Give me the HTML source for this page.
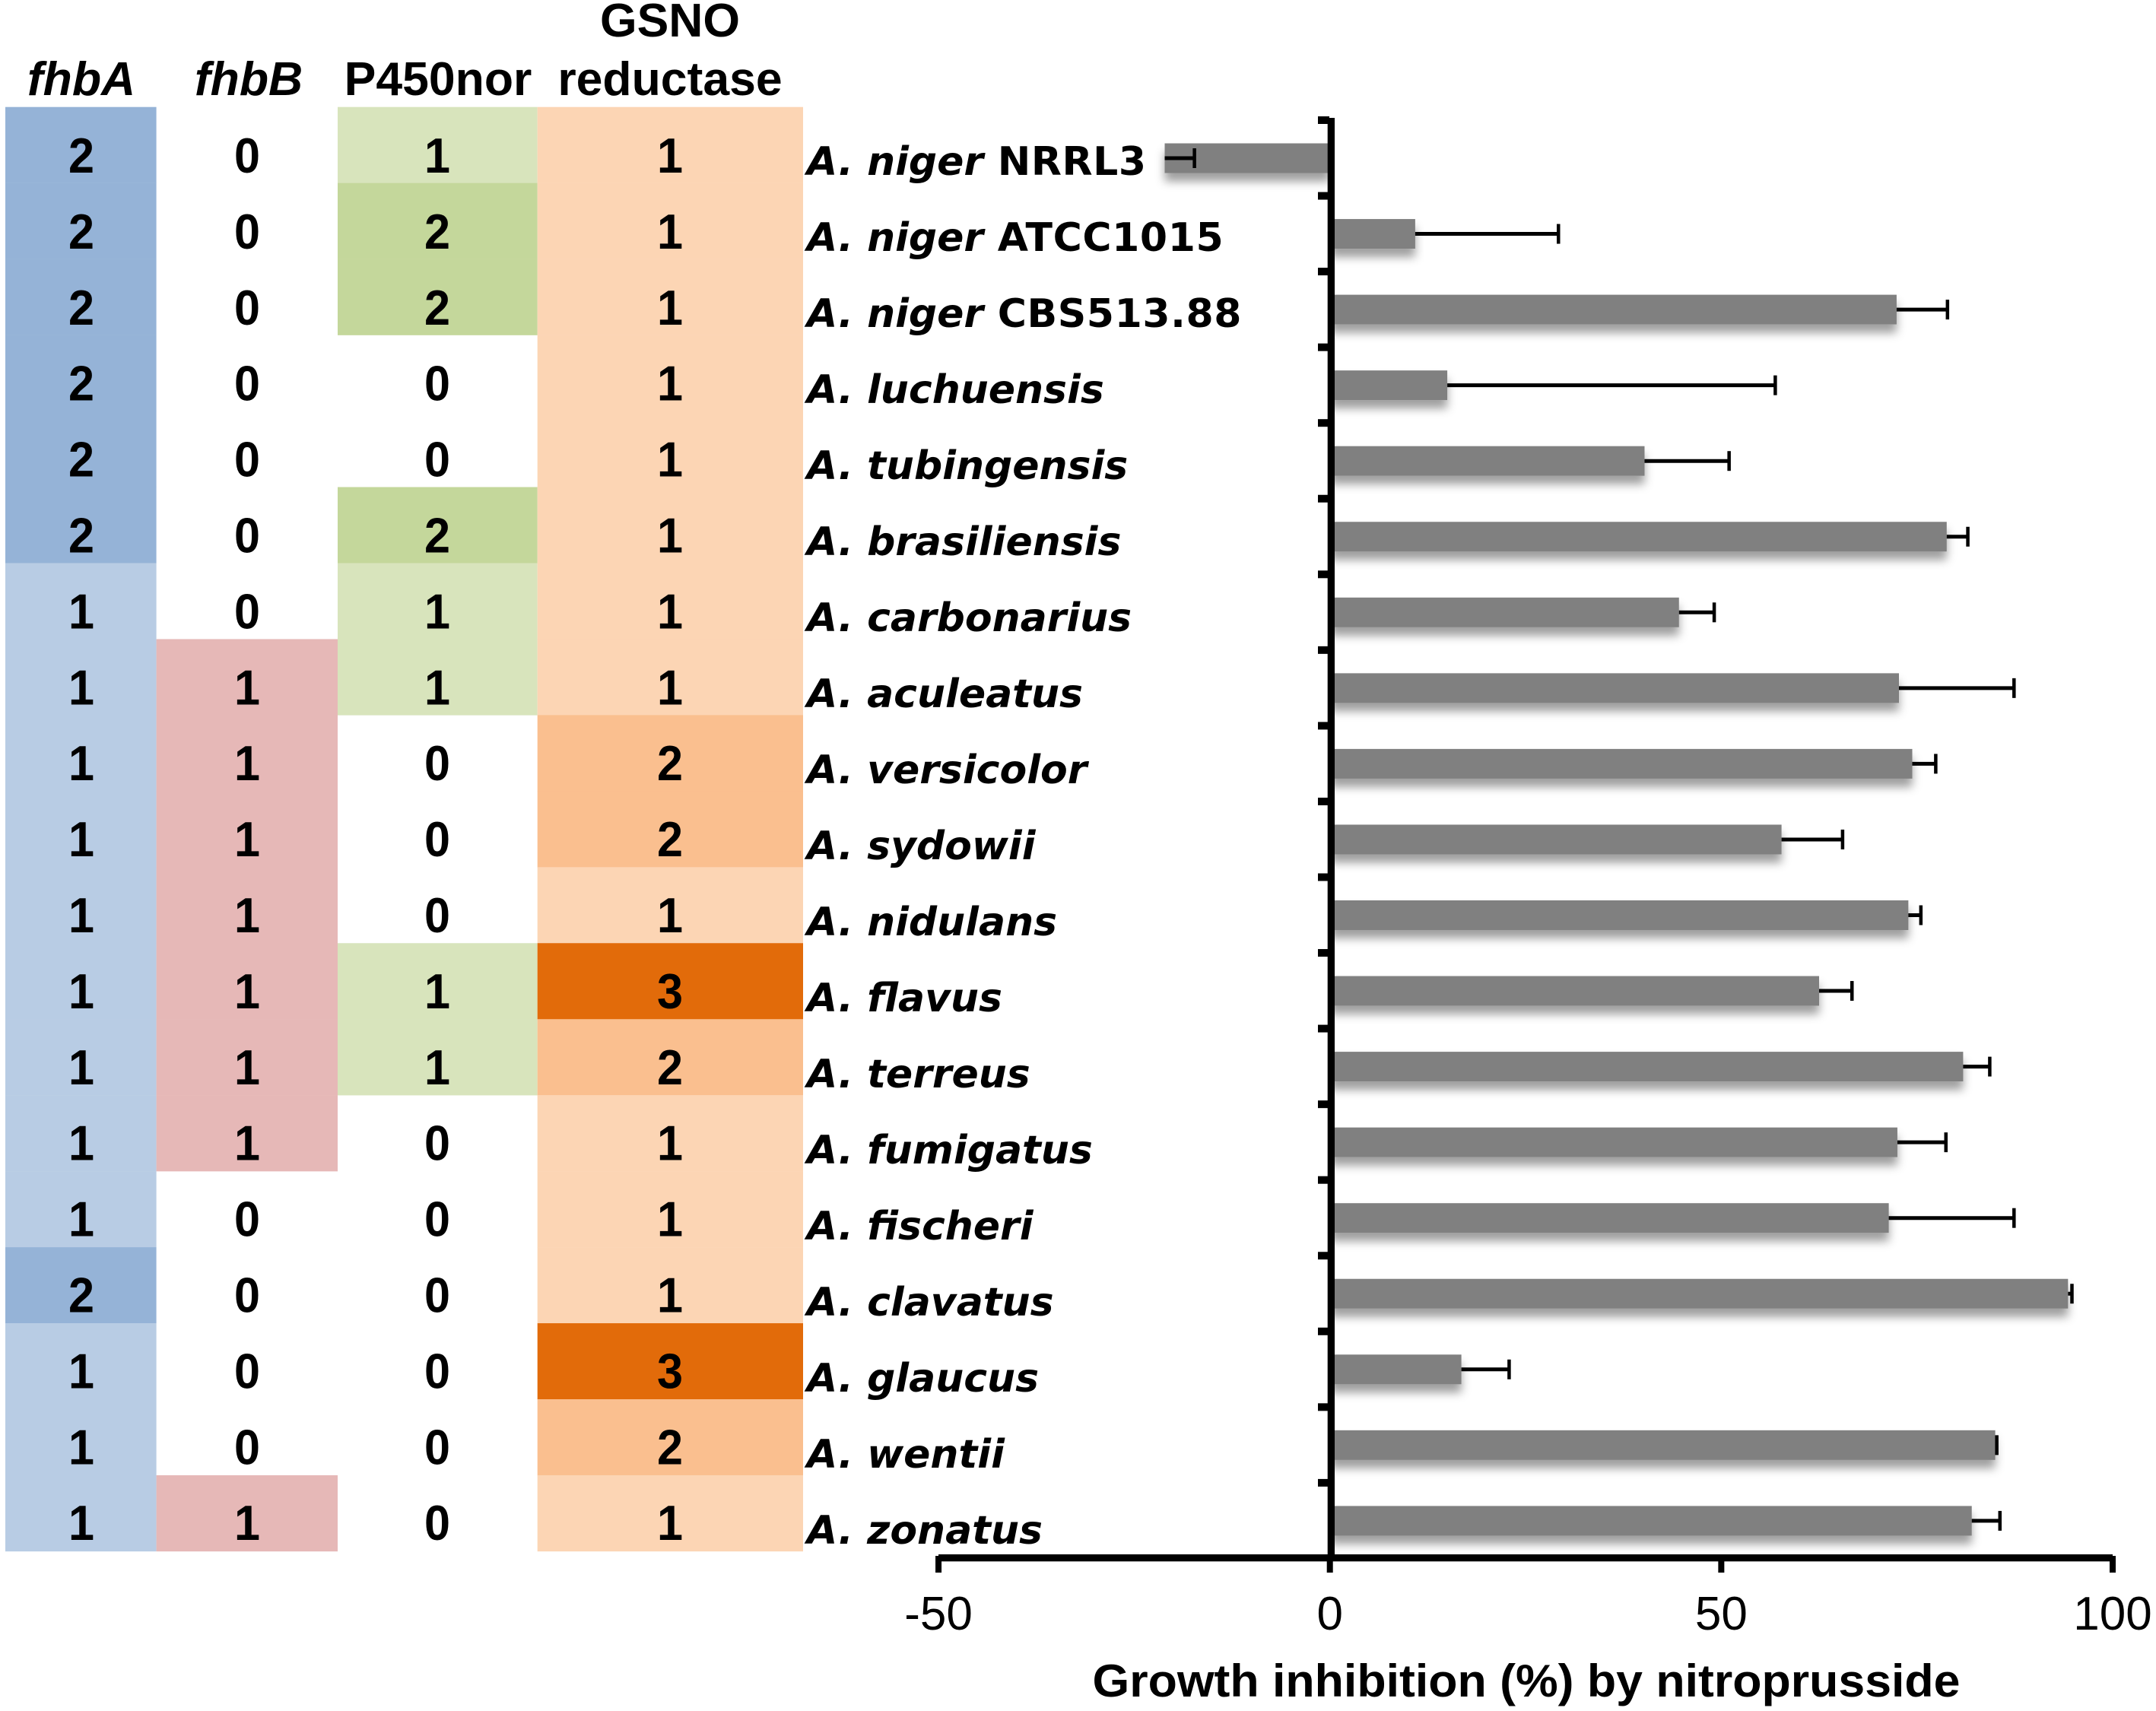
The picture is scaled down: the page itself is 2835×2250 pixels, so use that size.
<!DOCTYPE html>
<html lang="en">
<head>
<meta charset="utf-8">
<title>Growth inhibition by nitroprusside</title>
<style>
html,body{margin:0;padding:0;background:#fff;width:2835px;height:2250px;overflow:hidden}
svg{display:block}
text{fill:#000;font-family:"Liberation Sans",sans-serif}
.hdr,.num{font-weight:700;text-anchor:middle}
.hdr{font-size:62.5px}
.num{font-size:65px}
.lab{font-family:"DejaVu Sans",sans-serif;font-weight:700;font-size:52px}
.strain{letter-spacing:.6px}
.tick{font-size:62px;text-anchor:middle}
.title{font-size:60px;font-weight:700;text-anchor:middle}
</style>
</head>
<body>
<svg id="fig" xmlns="http://www.w3.org/2000/svg" width="2835" height="2250" viewBox="0 0 2835 2250">
<defs>
<filter id="sh" x="-10%" y="-30%" width="120%" height="200%"><feDropShadow dx="0" dy="11" stdDeviation="6" flood-color="#000" flood-opacity="0.38"/></filter>
<clipPath id="clipPos"><rect x="1750" y="0" width="1085" height="2250"/></clipPath>
<clipPath id="clipNeg"><rect x="0" y="0" width="1747" height="2250"/></clipPath>
</defs>
<text class="hdr" x="107" y="125" font-style="italic">fhbA</text>
<text class="hdr" x="327" y="125" font-style="italic">fhbB</text>
<text class="hdr" x="576" y="125">P450nor</text>
<text class="hdr" x="881" y="48">GSNO</text>
<text class="hdr" x="881" y="125">reductase</text>
<g id="table"></g>
<g id="labels"></g>
<g id="bars"></g>
<g id="axes"></g>
<text class="title" x="2007" y="2231" textLength="1141" lengthAdjust="spacingAndGlyphs">Growth inhibition (%) by nitroprusside</text>
</svg>
<script>
const species = ["A. niger","A. niger","A. niger","A. luchuensis","A. tubingensis","A. brasiliensis","A. carbonarius","A. aculeatus","A. versicolor","A. sydowii","A. nidulans","A. flavus","A. terreus","A. fumigatus","A. fischeri","A. clavatus","A. glaucus","A. wentii","A. zonatus"];
const strains = ["NRRL3","ATCC1015","CBS513.88","","","","","","","","","","","","","","","",""];
const growthInhibition = [-21.1,10.9,72.4,15,40.2,78.8,44.6,72.7,74.4,57.7,73.9,62.5,80.9,72.5,71.4,94.3,16.8,85,82];
const errorValues = [3.8,18.3,6.5,41.9,10.8,2.7,4.5,14.7,3,7.8,1.6,4.2,3.4,6.2,16,0.5,6.1,0.2,3.6];
const fhbA = [2,2,2,2,2,2,1,1,1,1,1,1,1,1,1,2,1,1,1];
const fhbB = [0,0,0,0,0,0,0,1,1,1,1,1,1,1,0,0,0,0,1];
const p450nor = [1,2,2,0,0,2,1,1,0,0,0,1,1,0,0,0,0,0,0];
const gsnoReductase = [1,1,1,1,1,1,1,1,2,2,1,3,2,1,1,1,3,2,1];
const xTickValues = [-50,0,50,100];

const NS = "http://www.w3.org/2000/svg";
function el(parent, tag, attrs, txt){
  const e = document.createElementNS(NS, tag);
  for (const k in attrs) e.setAttribute(k, attrs[k]);
  if (txt !== undefined) e.textContent = txt;
  parent.appendChild(e);
  return e;
}
const xScale = v => 1748.7 + v * 10.293;
const barY = i => 208 + i * 99.55;
const rowTop = i => 140.7 + i * 99.96;
const tableG = document.getElementById("table");
const labelsG = document.getElementById("labels");
const barsG = document.getElementById("bars");
const axesG = document.getElementById("axes");

const columns = [
  {key:"fhba", vals:fhbA, x0:7, x1:205.6, cx:107, fill:{0:"none",1:"#b8cce4",2:"#95b3d7"}},
  {key:"fhbb", vals:fhbB, x0:205.6, x1:444, cx:325, fill:{0:"none",1:"#e6b8b7"}},
  {key:"p450nor", vals:p450nor, x0:444, x1:706.7, cx:575, fill:{0:"none",1:"#d8e4bc",2:"#c4d79b"}},
  {key:"gsno", vals:gsnoReductase, x0:706.7, x1:1056, cx:881, fill:{1:"#fcd5b4",2:"#fabf8f",3:"#e26b0a"}}
];
columns.forEach(col => {
  col.vals.forEach((v, i) => {
    const f = col.fill[v];
    if (f && f !== "none") {
      const r = el(tableG, "rect", {x:col.x0, y:rowTop(i), width:col.x1-col.x0, height:100.2, fill:f});
      
      
    }
  });
});
columns.forEach(col => {
  col.vals.forEach((v, i) => {
    const t = el(tableG, "text", {class:"num", x:col.cx, y:227 + i * 99.9, textLength:34, lengthAdjust:"spacingAndGlyphs"}, String(v));
    
    
  });
});

species.forEach((s, i) => {
  const t = el(labelsG, "text", {class:"lab", x:1061, y:230 + i * 100});
  
  
  el(t, "tspan", {"font-style":"italic"}, s);
  if (strains[i]) el(t, "tspan", {class:"strain"}, " " + strains[i]);
});

growthInhibition.forEach((v, i) => {
  const y = barY(i), h = 39;
  const x0 = xScale(Math.min(v, 0)), x1 = xScale(Math.max(v, 0));
  const holder = el(barsG, "g", {"clip-path": v < 0 ? "url(#clipNeg)" : "url(#clipPos)"});
  
  
  const b = el(holder, "rect", {x:x0, y:y - h / 2, width:x1 - x0, height:h, fill:"#808080", filter:"url(#sh)"});
  
  
});
growthInhibition.forEach((v, i) => {
  const y = barY(i), xe = xScale(v + errorValues[i]);
  const l = el(barsG, "line", {x1:xScale(v), x2:xe, y1:y, y2:y, stroke:"#000", "stroke-width":5});
  
  
  const c = el(barsG, "line", {x1:xe, x2:xe, y1:y - 13, y2:y + 13, stroke:"#000", "stroke-width":4.5});
  
  
});

const yAxis = el(axesG, "rect", {x:1745.7, y:155, width:9.3, height:1898, fill:"#000"});


for (let i = 0; i < species.length; i++) {
  const tk = el(axesG, "rect", {x:1733, y:158 + i * 99.55 - 5, width:15, height:10, fill:"#000"});
  
  
}
const xAxis = el(axesG, "rect", {x:xScale(-50), y:2044, width:xScale(100) - xScale(-50), height:9.3, fill:"#000"});


xTickValues.forEach(v => {
  const tk = el(axesG, "rect", {x:xScale(v) - 4, y:2046, width:8, height:22, fill:"#000"});
  
  
  const lb = el(axesG, "text", {class:"tick", x:xScale(v), y:2143}, String(v));
  
  
});
</script>
</body>
</html>
